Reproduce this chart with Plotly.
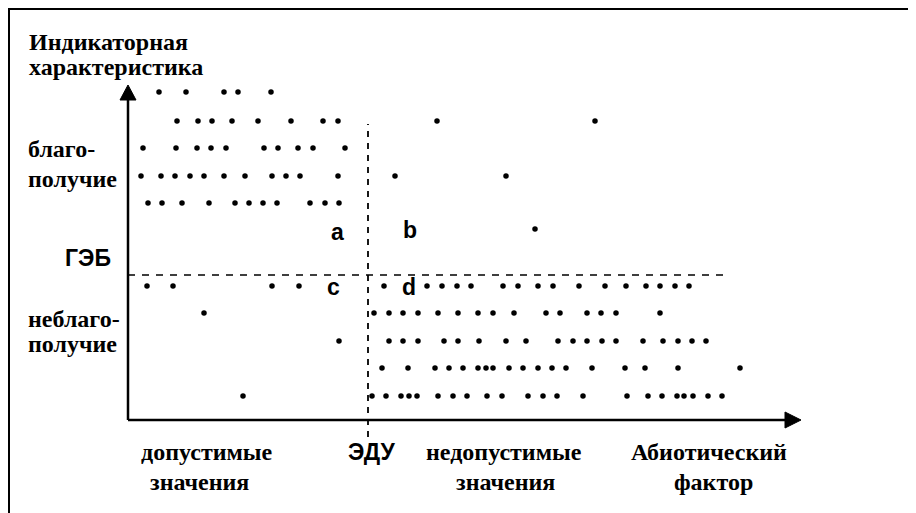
import plotly.graph_objects as go

# Notional coordinates: abiotic factor (x) vs indicator characteristic (y)
# Upper half: well-being (above ГЭБ), lower half: ill-being
level_top = [328, 299, 272, 244, 217, 191]
x_top = [
    [31, 58, 96, 110, 143],
    [49, 70, 84, 104, 130, 163, 195, 210, 309, 467],
    [15, 48, 69, 83, 98, 136, 150, 170, 185, 217],
    [13, 33, 47, 62, 76, 96, 117, 144, 158, 172, 210, 267, 378],
    [20, 34, 54, 81, 107, 121, 135, 149, 182, 197, 211],
    [407],
]
level_bottom = [134, 107, 79, 52, 24]
x_bottom = [
    [19, 45, 144, 171, 256, 299, 314, 329, 343, 375, 390, 410, 425, 451, 477, 498, 518, 532, 547, 561],
    [76, 246, 261, 275, 290, 310, 330, 350, 365, 386, 418, 432, 459, 473, 488, 532],
    [211, 261, 275, 290, 316, 330, 351, 378, 398, 430, 445, 459, 474, 488, 515, 535, 550, 564, 578],
    [254, 280, 307, 321, 335, 350, 358, 365, 381, 395, 410, 424, 438, 464, 497, 517, 550, 612],
    [115, 244, 258, 273, 281, 289, 310, 325, 339, 359, 374, 400, 415, 429, 455, 499, 520, 534, 549, 556, 565, 580, 594],
]
geb_level = 145      # ГЭБ threshold
edu_level = 240      # ЭДУ threshold
axis_x_end = 673
axis_y_end = 335

xs, ys = [], []
for lv, row in list(zip(level_top, x_top)) + list(zip(level_bottom, x_bottom)):
    xs += row
    ys += [lv] * len(row)

fig = go.Figure()
fig.add_trace(go.Scatter(x=xs, y=ys, mode="markers",
                         marker=dict(size=5.5, color="black"),
                         hoverinfo="skip", showlegend=False))

black = "black"
shapes = [
    # frame
    dict(type="rect", x0=-119, y0=-120, x1=810, y1=411, line=dict(color=black, width=2)),
    # axes
    dict(type="line", x0=0, y0=0, x1=0, y1=axis_y_end - 12, line=dict(color=black, width=2.5)),
    dict(type="line", x0=0, y0=0, x1=axis_x_end - 12, y1=0, line=dict(color=black, width=2.5)),
    dict(type="path", path=f"M -8 {axis_y_end-15} L 8 {axis_y_end-15} L 0 {axis_y_end} Z",
         fillcolor=black, line=dict(color=black, width=1)),
    dict(type="path", path=f"M {axis_x_end-16} -8 L {axis_x_end-16} 8 L {axis_x_end} 0 Z",
         fillcolor=black, line=dict(color=black, width=1)),
    # thresholds
    dict(type="line", x0=0, y0=geb_level, x1=595, y1=geb_level,
         line=dict(color=black, width=1.5, dash="7px,7px")),
    dict(type="line", x0=edu_level, y0=-17, x1=edu_level, y1=296,
         line=dict(color=black, width=1.8, dash="6px,6px")),
]

serif = dict(family="Liberation Serif", size=24, color=black, weight="bold")
sans = dict(family="Liberation Sans", size=23, color=black, weight="bold")

def txt(x, y, t, font, xanchor="center"):
    return dict(x=x, y=y, text=t, showarrow=False, font=font, borderpad=0,
                xanchor=xanchor, yanchor="middle")

ann = [
    txt(-100, 378, "Индикаторная", serif, "left"),
    txt(-100, 353, "характеристика", serif, "left"),
    txt(-101, 271, "благо-", serif, "left"),
    txt(-101, 241, "получие", serif, "left"),
    txt(-40, 162, "ГЭБ", sans),
    txt(-101, 101, "неблаго-", serif, "left"),
    txt(-101, 76, "получие", serif, "left"),
    txt(79, -32, "допустимые", serif),
    txt(71, -62, "значения", serif),
    txt(243, -32, "ЭДУ", sans),
    txt(376, -32, "недопустимые", serif),
    txt(377, -62, "значения", serif),
    txt(581, -32, "Абиотический", serif),
    txt(585, -62, "фактор", serif),
    txt(209, 188, "a", sans),
    txt(282, 190, "b", sans),
    txt(205, 133, "c", sans),
    txt(281, 133, "d", sans),
]

# page body adds an 8px offset; ranges compensate so marks land where intended
fig.update_layout(
    width=916, height=513,
    margin=dict(l=0, r=0, t=0, b=0),
    paper_bgcolor="white", plot_bgcolor="white",
    xaxis=dict(range=[-120, 796], visible=False, fixedrange=True),
    yaxis=dict(range=[-101, 412], visible=False, fixedrange=True),
    shapes=shapes, annotations=ann,
)

fig.write_html("out.html")
